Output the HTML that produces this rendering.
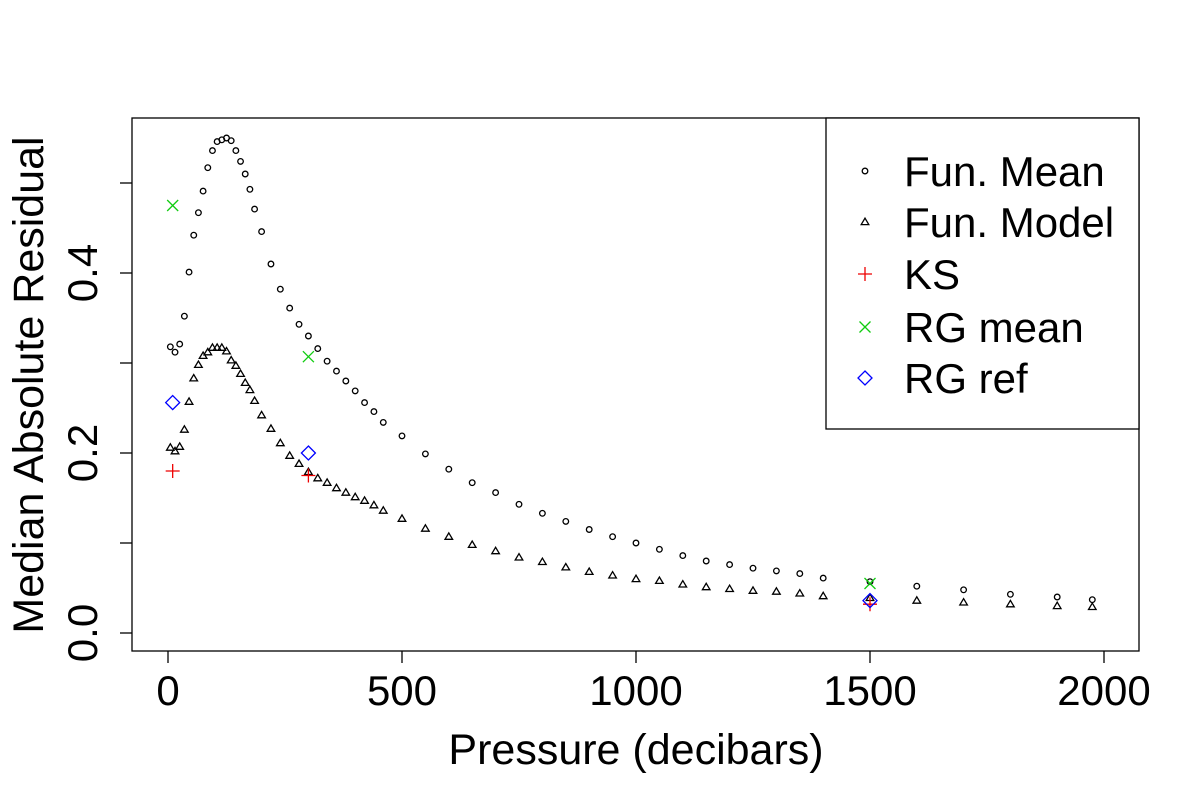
<!DOCTYPE html>
<html><head><meta charset="utf-8"><style>
html,body{margin:0;padding:0;background:#fff}
svg{display:block;font-family:"Liberation Sans",sans-serif}
</style></head><body>
<svg id="chart" width="1200" height="800" xmlns="http://www.w3.org/2000/svg">
<rect x="0" y="0" width="1200" height="800" fill="#fff"/>
<g id="plot"></g>
</svg>
<script>
const pressure = [5,15,25,35,45,55,65,75,85,95,105,115,125,135,145,155,165,175,185,200,220,240,260,280,300,320,340,360,380,400,420,440,460,500,550,600,650,700,750,800,850,900,950,1000,1050,1100,1150,1200,1250,1300,1350,1400,1500,1600,1700,1800,1900,1975];
const funMean = [0.318,0.312,0.321,0.352,0.401,0.442,0.467,0.491,0.517,0.536,0.546,0.548,0.55,0.547,0.536,0.524,0.51,0.493,0.471,0.446,0.41,0.382,0.361,0.343,0.33,0.316,0.302,0.291,0.28,0.269,0.256,0.246,0.234,0.219,0.199,0.182,0.167,0.156,0.143,0.133,0.124,0.115,0.107,0.1,0.093,0.086,0.08,0.076,0.072,0.069,0.066,0.061,0.057,0.052,0.048,0.043,0.04,0.037];
const funModel = [0.206,0.202,0.207,0.226,0.257,0.283,0.298,0.308,0.312,0.317,0.317,0.317,0.313,0.303,0.297,0.288,0.278,0.27,0.258,0.242,0.227,0.211,0.197,0.188,0.179,0.172,0.167,0.161,0.156,0.151,0.147,0.142,0.136,0.127,0.116,0.107,0.098,0.091,0.084,0.079,0.073,0.068,0.064,0.06,0.058,0.054,0.051,0.049,0.047,0.046,0.044,0.041,0.039,0.036,0.034,0.032,0.03,0.029];
const refPressure = [10,300,1500];
const ksValues = [0.18,0.175,0.032];
const rgMeanValues = [0.475,0.307,0.055];
const rgRefValues = [0.256,0.2,0.036];
const xTicks = [0,500,1000,1500,2000];
const yTicks = [0,0.1,0.2,0.3,0.4,0.5];
const yLabels = ["0.0","0.2","0.4"];
const legendLabels = ["Fun. Mean","Fun. Model","KS","RG mean","RG ref"];

const NS="http://www.w3.org/2000/svg";
const g=document.getElementById('plot');
const X=v=>168+v*0.468;
const Y=v=>633-v*900;
function el(tag,attrs,parent){const e=document.createElementNS(NS,tag);for(const k in attrs)e.setAttribute(k,attrs[k]);(parent||g).appendChild(e);return e;}

let box=el('rect',{x:132,y:118,width:1007,height:533,fill:'none',stroke:'#000','stroke-width':1.3});



xTicks.forEach(t=>{
  let l=el('line',{x1:X(t),x2:X(t),y1:651,y2:663,stroke:'#000','stroke-width':1.3});
  
  
  let tx=el('text',{x:X(t),y:705,'font-size':42,'text-anchor':'middle'});
  tx.textContent=t;
  
  
});
yTicks.forEach(t=>{
  let l=el('line',{x1:120,x2:132,y1:Y(t),y2:Y(t),stroke:'#000','stroke-width':1.3});
  
  
});
yLabels.forEach(s=>{
  const v=parseFloat(s);
  let tx=el('text',{x:0,y:0,'font-size':42,'text-anchor':'middle',transform:`translate(97,${Y(v)}) rotate(-90)`});
  tx.textContent=s;
  
  
});
let xt=el('text',{x:636,y:764,'font-size':43,'text-anchor':'middle'});
xt.textContent='Pressure (decibars)';


let yt=el('text',{x:0,y:0,'font-size':43,'text-anchor':'middle',transform:'translate(43,385) rotate(-90)'});
yt.textContent='Median Absolute Residual';



function circle(x,y){return el('circle',{cx:x,cy:y,r:2.8,fill:'none',stroke:'#000','stroke-width':1.3});}
function tri(x,y){return el('path',{d:`M${x-3.8},${y+2.6}L${x+3.8},${y+2.6}L${x},${y-3.8}Z`,fill:'none',stroke:'#000','stroke-width':1.3});}
function plus(x,y){return el('path',{d:`M${x-7},${y}H${x+7}M${x},${y-7}V${y+7}`,stroke:'#e00','stroke-width':1.3,fill:'none'});}
function cross(x,y){return el('path',{d:`M${x-5.5},${y-5.5}L${x+5.5},${y+5.5}M${x-5.5},${y+5.5}L${x+5.5},${y-5.5}`,stroke:'#1c1','stroke-width':1.3,fill:'none'});}
function diam(x,y){return el('path',{d:`M${x},${y-7}L${x+7},${y}L${x},${y+7}L${x-7},${y}Z`,stroke:'#00f','stroke-width':1.3,fill:'none'});}

pressure.forEach((p,i)=>{
  let c=circle(X(p),Y(funMean[i]));
  
  
  let t=tri(X(p),Y(funModel[i]));
  
  
});
refPressure.forEach((p,i)=>{
  let a=plus(X(p),Y(ksValues[i]));
  
  
  let b=cross(X(p),Y(rgMeanValues[i]));
  
  
  let c=diam(X(p),Y(rgRefValues[i]));
  
  
});

let lg=el('rect',{x:826,y:118,width:313,height:311,fill:'#fff',stroke:'#000','stroke-width':1.3});


const ly=[171,222,274,327,378];
const mk=[circle,tri,plus,cross,diam];
legendLabels.forEach((s,i)=>{
  let m=mk[i](865,ly[i]);
  
  
  let t=el('text',{x:904,y:ly[i]+15,'font-size':42});
  t.textContent=s;
  
  
});
</script>
</body></html>
